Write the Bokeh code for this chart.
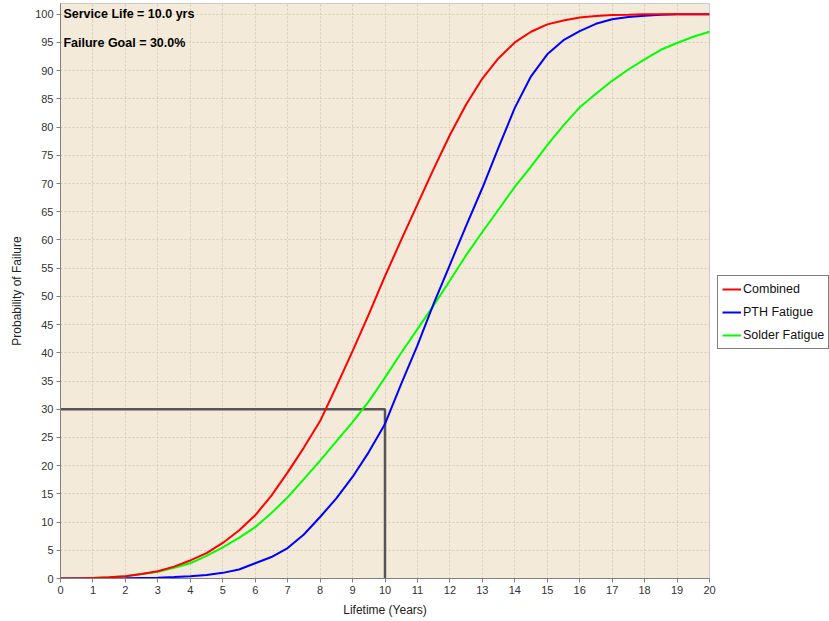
from bokeh.plotting import figure
from bokeh.models import Legend, LegendItem, Label, Range1d, FixedTicker
from bokeh.layouts import row
from bokeh.embed import file_html
from bokeh.resources import INLINE

# ---- data ----
years = [0, 0.5, 1, 1.5, 2, 2.5, 3, 3.5, 4, 4.5, 5, 5.5, 6, 6.5, 7, 7.5, 8, 8.5, 9, 9.5,
         10, 10.5, 11, 11.5, 12, 12.5, 13, 13.5, 14, 14.5, 15, 15.5, 16, 16.5, 17, 17.5,
         18, 18.5, 19, 19.5, 20]
combined = [0, 0.0, 0.1, 0.2, 0.4, 0.8, 1.3, 2.1, 3.2, 4.5, 6.3, 8.5, 11.2, 14.7, 18.8, 23.2,
            27.9, 34.0, 40.3, 46.8, 53.6, 60.0, 66.3, 72.6, 78.6, 84.0, 88.6, 92.2, 95.0, 96.9,
            98.2, 98.9, 99.4, 99.7, 99.85, 99.9, 100, 100, 100, 100, 100]
pth_fatigue = [0, 0, 0, 0.02, 0.05, 0.1, 0.15, 0.25, 0.4, 0.6, 1.0, 1.6, 2.7, 3.8, 5.4, 7.8,
               10.9, 14.2, 18.0, 22.4, 27.4, 34.5, 41.3, 48.7, 55.6, 62.5, 69.2, 76.4, 83.4, 89.0,
               92.9, 95.4, 97.0, 98.3, 99.1, 99.5, 99.75, 99.9, 100, 100, 100]
solder_fatigue = [0, 0.0, 0.1, 0.2, 0.4, 0.8, 1.2, 1.9, 2.7, 4.0, 5.5, 7.2, 9.1, 11.6, 14.4, 17.6,
                  20.9, 24.3, 27.7, 31.4, 35.6, 40.0, 44.2, 48.4, 52.8, 57.3, 61.4, 65.4, 69.4, 73.0,
                  76.8, 80.3, 83.5, 85.9, 88.2, 90.2, 92.0, 93.7, 94.9, 96.0, 96.9]
series_names = ["Combined", "PTH Fatigue", "Solder Fatigue"]
series_colors = ["#FF0000", "#0000FF", "#00FF00"]
x_ticks = list(range(0, 21))
y_ticks = list(range(0, 101, 5))
service_life = 10.0
failure_goal = 30.0

p = figure(width=717, height=621, output_backend="svg", toolbar_location=None,
           min_border_left=60, min_border_right=8, min_border_top=3, min_border_bottom=43,
           x_range=Range1d(0, 20), y_range=Range1d(0, 101.9))

p.background_fill_color = "#F3EAD9"
p.border_fill_color = "white"
p.outline_line_color = "#C8C8C8"
p.outline_line_width = 1

for ax in (p.xaxis[0], p.yaxis[0]):
    ax.axis_line_color = "#808080"
    ax.major_tick_line_color = "#808080"
    ax.major_tick_out = 4
    ax.major_tick_in = 0
    ax.minor_tick_line_color = None
    ax.major_label_text_font = "Liberation Sans"
    ax.major_label_text_font_size = "11px"
    ax.major_label_text_color = "#333333"
    ax.axis_label_text_font = "Liberation Sans"
    ax.axis_label_text_font_size = "12px"
    ax.axis_label_text_font_style = "normal"
    ax.axis_label_text_color = "#222222"

p.xaxis.ticker = FixedTicker(ticks=x_ticks)
p.yaxis.ticker = FixedTicker(ticks=y_ticks)
p.xaxis.axis_label = "Lifetime (Years)"
p.yaxis.axis_label = "Probability of Failure"
p.xaxis.axis_label_standoff = 6
p.yaxis.axis_label_standoff = 8
p.xaxis.major_label_standoff = 3
p.yaxis.major_label_standoff = 3

for g in (p.xgrid[0], p.ygrid[0]):
    g.grid_line_color = "#D6CCBC"
    g.grid_line_dash = "2 2"
    g.grid_line_width = 1
p.xgrid.ticker = FixedTicker(ticks=x_ticks)
p.ygrid.ticker = FixedTicker(ticks=y_ticks)

# reference lines for service life / failure goal
p.line([0, service_life, service_life], [failure_goal, failure_goal, 0],
       line_color="#555555", line_width=2.5)

# draw order as in the reference: solder, PTH, combined on top
series_values = [combined, pth_fatigue, solder_fatigue]
for ys, c in list(zip(series_values, series_colors))[::-1]:
    p.line(years, ys, line_color=c, line_width=2)

lab1 = Label(x=0.09, y=100, text=f"Service Life = {service_life:.1f} yrs",
             text_font="Liberation Sans", text_font_style="bold", text_font_size="12.5px",
             text_baseline="middle", text_color="black")
lab2 = Label(x=0.09, y=94.86, text=f"Failure Goal = {failure_goal:.1f}%",
             text_font="Liberation Sans", text_font_style="bold", text_font_size="12.5px",
             text_baseline="middle", text_color="black")
p.add_layout(lab1)
p.add_layout(lab2)

# ---- legend panel (separate, axis-less figure to the right) ----
pl = figure(width=112, height=621, output_backend="svg", toolbar_location=None,
            min_border_left=0, min_border_right=0, min_border_top=0, min_border_bottom=0,
            x_range=Range1d(0, 1), y_range=Range1d(0, 1))
pl.axis.visible = False
pl.grid.visible = False
pl.outline_line_color = None
pl.background_fill_color = "white"
pl.border_fill_color = "white"

# legend proxies: first point of each series, placed outside the visible range of this panel
proxies = [pl.line([years[0] - 10], [ys[0] - 10], line_color=c, line_width=2)
           for ys, c in zip(series_values, series_colors)]
legend = Legend(items=[LegendItem(label=n, renderers=[r]) for n, r in zip(series_names, proxies)],
                location=(0, 229))
legend.label_text_font = "Liberation Sans"
legend.label_text_font_size = "12.5px"
legend.label_text_color = "#111111"
legend.border_line_color = "black"
legend.border_line_width = 1
legend.background_fill_color = "white"
legend.background_fill_alpha = 1
legend.padding = 4
legend.spacing = 5
legend.glyph_width = 19
legend.glyph_height = 18
legend.label_height = 18
legend.label_standoff = 2
legend.margin = 0
pl.add_layout(legend)

layout = row(p, pl, spacing=0)
open("out.html", "w").write(file_html(layout, INLINE))
